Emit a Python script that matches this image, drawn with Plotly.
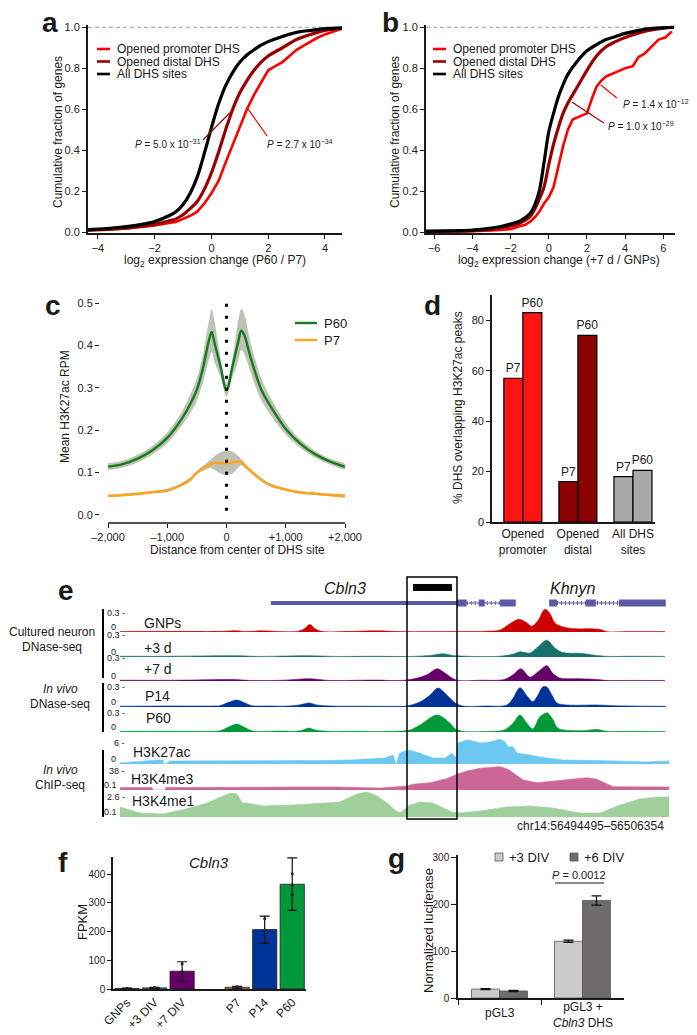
import plotly.graph_objects as go

# The page places the figure 8 px from the top-left corner (body margin), so the
# figure is sized to fill the remaining window and all positions below are given
# in window pixels of the 697 x 1035 view.
OFF = 8
W, H = 697 - OFF, 1035 - OFF
FONT = "Liberation Sans, Arial, Helvetica, sans-serif"
INK = "#1a1a1a"


def PX(x):
    return (x - OFF) / W


def PY(y):
    return 1 - (y - OFF) / H


# ======================= DATA =======================
# (a) cumulative fraction of genes vs log2 expression change (P60 / P7)
cdf_names = ["Opened promoter DHS", "Opened distal DHS", "All DHS sites"]
cdf_colors = ["#ff0000", "#990000", "#000000"]

a_x = [-4.35, -4, -3.5, -3, -2.5, -2, -1.5, -1.25, -1, -0.75, -0.5, -0.25, 0, 0.25,
       0.5, 0.75, 1, 1.25, 1.5, 1.75, 2, 2.5, 3, 3.5, 4, 4.6]
a_all = [0.012, 0.015, 0.02, 0.027, 0.037, 0.052, 0.08, 0.10, 0.135, 0.19, 0.27, 0.385, 0.51,
         0.625, 0.715, 0.78, 0.83, 0.865, 0.89, 0.913, 0.93, 0.955, 0.975, 0.985, 0.993, 0.997]
a_distal = [0.01, 0.012, 0.015, 0.02, 0.028, 0.038, 0.055, 0.065, 0.085, 0.115, 0.15, 0.21, 0.29,
            0.39, 0.50, 0.60, 0.68, 0.74, 0.79, 0.83, 0.86, 0.90, 0.94, 0.965, 0.985, 0.995]
a_prom_x = [-4.35, -4, -3.5, -3, -2.5, -2, -1.5, -1.25, -1, -0.75, -0.5, -0.25, 0, 0.25, 0.5,
            0.75, 1, 1.25, 1.5, 1.75, 2, 2.25, 2.5, 2.75, 3, 3.25, 3.5, 3.75, 4, 4.3, 4.6]
a_prom = [0.008, 0.01, 0.013, 0.018, 0.025, 0.033, 0.045, 0.05, 0.065, 0.08, 0.10, 0.14, 0.19,
          0.25, 0.34, 0.43, 0.52, 0.60, 0.67, 0.73, 0.79, 0.81, 0.83, 0.86, 0.89, 0.91, 0.93,
          0.95, 0.965, 0.98, 0.993]
a_p_texts = ["<i>P</i> = 5.0 x 10<sup>−31</sup>", "<i>P</i> = 2.7 x 10<sup>−34</sup>"]

# (b) cumulative fraction of genes vs log2 expression change (+7 d / GNPs)
b_x = [-6.5, -6, -5, -4, -3, -2.5, -2, -1.5, -1, -0.75, -0.5, -0.25, 0, 0.25, 0.5, 0.75, 1,
       1.5, 2, 2.5, 3, 3.5, 4, 5, 6, 6.55]
b_all = [0.005, 0.005, 0.007, 0.01, 0.02, 0.028, 0.04, 0.055, 0.09, 0.13, 0.20, 0.34, 0.49,
         0.58, 0.66, 0.72, 0.77, 0.835, 0.885, 0.915, 0.94, 0.955, 0.97, 0.99, 0.998, 1.0]
b_distal = [0.003, 0.004, 0.005, 0.008, 0.015, 0.022, 0.03, 0.045, 0.075, 0.11, 0.16, 0.22, 0.33,
            0.43, 0.51, 0.58, 0.63, 0.71, 0.79, 0.86, 0.905, 0.93, 0.95, 0.98, 0.995, 1.0]
b_prom_x = [-6.5, -5, -4, -3, -2, -1.5, -1.25, -1, -0.75, -0.5, -0.25, 0, 0.25, 0.5, 0.75, 1,
            1.25, 1.5, 1.75, 2, 2.25, 2.5, 2.75, 3, 3.5, 4, 4.4, 4.7, 5, 5.4, 5.75, 6.1, 6.45]
b_prom = [0.002, 0.003, 0.005, 0.008, 0.015, 0.03, 0.035, 0.05, 0.07, 0.10, 0.14, 0.17, 0.22,
          0.32, 0.42, 0.50, 0.55, 0.56, 0.57, 0.58, 0.65, 0.71, 0.74, 0.76, 0.78, 0.80, 0.81,
          0.855, 0.87, 0.905, 0.94, 0.95, 0.98]
b_p_texts = ["<i>P</i> = 1.0 x 10<sup>−29</sup>", "<i>P</i> = 1.4 x 10<sup>−12</sup>"]

# (c) mean H3K27ac RPM around DHS centres
c_x = [-2000, -1750, -1500, -1250, -1000, -750, -600, -500, -400, -300, -250, -200, -100, 0,
       100, 200, 250, 300, 400, 500, 600, 750, 1000, 1250, 1500, 1750, 2000]
c_p60 = [0.114, 0.12, 0.133, 0.153, 0.182, 0.228, 0.265, 0.296, 0.345, 0.41, 0.432, 0.405, 0.35,
         0.295, 0.35, 0.41, 0.435, 0.425, 0.375, 0.33, 0.292, 0.255, 0.203, 0.168, 0.143, 0.126, 0.114]
c_p60_hi = [0.122, 0.128, 0.142, 0.163, 0.195, 0.245, 0.288, 0.322, 0.378, 0.455, 0.485, 0.455,
            0.37, 0.31, 0.37, 0.46, 0.487, 0.475, 0.41, 0.36, 0.318, 0.275, 0.218, 0.178, 0.151,
            0.133, 0.12]
c_p60_lo = [0.106, 0.112, 0.124, 0.143, 0.17, 0.212, 0.243, 0.27, 0.312, 0.365, 0.385, 0.36,
            0.325, 0.28, 0.325, 0.365, 0.39, 0.38, 0.34, 0.3, 0.268, 0.235, 0.19, 0.158, 0.135,
            0.119, 0.108]
c_p7 = [0.045, 0.047, 0.05, 0.054, 0.058, 0.072, 0.085, 0.1, 0.11, 0.118, 0.121, 0.123, 0.122,
        0.122, 0.124, 0.126, 0.125, 0.118, 0.105, 0.093, 0.082, 0.07, 0.06, 0.053, 0.05, 0.047, 0.045]
c_p7_hi = [0.048, 0.05, 0.053, 0.057, 0.062, 0.076, 0.09, 0.104, 0.116, 0.127, 0.132, 0.139,
           0.148, 0.152, 0.15, 0.139, 0.132, 0.124, 0.109, 0.097, 0.086, 0.074, 0.063, 0.056,
           0.053, 0.05, 0.048]
c_p7_lo = [0.042, 0.044, 0.047, 0.051, 0.054, 0.068, 0.08, 0.096, 0.104, 0.11, 0.11, 0.107,
           0.098, 0.095, 0.098, 0.112, 0.118, 0.112, 0.101, 0.089, 0.078, 0.066, 0.057, 0.05,
           0.047, 0.044, 0.042]
c_names = ["P60", "P7"]
c_colors = ["#167a1e", "#ffa31a"]

# (d) % DHS overlapping H3K27ac peaks
d_cats = ["Opened<br>promoter", "Opened<br>distal", "All DHS<br>sites"]
d_p7 = [57, 16, 18]
d_p60 = [83, 74, 20.5]
d_colors = ["#ff1414", "#8b0000", "#a9a9a9"]

# (e) genome browser, positions in kb from chr14:56494495
e_span_kb = 11.86
e_chr_label = "chr14:56494495–56506354"
cbln3_utr = [3.26, 7.28]
cbln3_exons = [[7.28, 7.49], [7.75, 7.88], [8.21, 8.55]]
cbln3_intron = [7.49, 8.21]
khnyn_exons = [[9.27, 9.44], [10.06, 10.28], [10.78, 11.79]]
khnyn_intron = [9.44, 10.78]
dhs_box = [6.20, 7.28]
dhs_bar = [6.33, 7.17]

gnp_pos = [0, 1.0, 2.2, 2.48, 2.75, 3.07, 3.4, 3.85, 3.98, 4.10, 4.22, 4.35, 5.0, 5.55, 6.0, 7.0,
           7.9, 8.21, 8.40, 8.62, 8.80, 8.90, 9.03, 9.18, 9.29, 9.40, 9.57, 9.87, 10.15, 10.37,
           10.52, 11.0, 11.77]
gnp_val = [0.008, 0.01, 0.01, 0.02, 0.008, 0.018, 0.008, 0.012, 0.05, 0.12, 0.05, 0.01, 0.01,
           0.018, 0.006, 0.006, 0.012, 0.03, 0.12, 0.2, 0.14, 0.09, 0.18, 0.36, 0.29, 0.14, 0.08,
           0.05, 0.05, 0.04, 0.005, 0.006, 0.006]
d3_pos = [0, 1.0, 2.48, 3.0, 4.1, 4.6, 5.5, 6.3, 6.75, 6.98, 7.2, 7.6, 8.2, 8.5, 8.64, 8.86, 9.03,
          9.22, 9.40, 9.57, 9.94, 10.30, 10.55, 11.0, 11.77]
d3_val = [0.01, 0.01, 0.018, 0.008, 0.018, 0.008, 0.01, 0.008, 0.025, 0.045, 0.02, 0.008, 0.01,
          0.04, 0.07, 0.055, 0.14, 0.23, 0.12, 0.06, 0.05, 0.02, 0.008, 0.01, 0.008]
d7_pos = [0, 1.2, 2.48, 2.8, 3.5, 4.10, 4.5, 5.55, 5.9, 6.15, 6.40, 6.63, 6.85, 6.98, 7.17, 7.30,
          7.8, 8.30, 8.49, 8.66, 8.86, 9.03, 9.22, 9.35, 9.50, 9.94, 10.30, 10.55, 11.0, 11.77]
d7_val = [0.01, 0.01, 0.018, 0.008, 0.01, 0.03, 0.008, 0.012, 0.006, 0.01, 0.035, 0.08, 0.16,
          0.12, 0.04, 0.008, 0.01, 0.02, 0.08, 0.16, 0.05, 0.12, 0.2, 0.1, 0.04, 0.03, 0.02, 0.006,
          0.008, 0.006]
p14_pos = [0, 1.0, 2.0, 2.16, 2.35, 2.53, 2.70, 2.85, 3.2, 3.67, 3.9, 4.08, 4.25, 4.54, 5.2, 6.0,
           6.20, 6.48, 6.70, 6.87, 7.06, 7.24, 7.40, 7.9, 8.36, 8.49, 8.64, 8.81, 8.92, 9.03, 9.13,
           9.22, 9.33, 9.44, 9.65, 10.30, 10.65, 11.79]
p14_val = [0.012, 0.015, 0.015, 0.02, 0.07, 0.105, 0.06, 0.02, 0.015, 0.015, 0.035, 0.06, 0.03,
           0.015, 0.012, 0.01, 0.015, 0.075, 0.18, 0.285, 0.18, 0.06, 0.015, 0.015, 0.03, 0.13,
           0.29, 0.15, 0.08, 0.18, 0.3, 0.3, 0.18, 0.06, 0.03, 0.03, 0.02, 0.01]
p60_pos = [0, 1.0, 2.0, 2.16, 2.35, 2.53, 2.70, 2.87, 3.2, 3.55, 3.8, 3.95, 4.08, 4.22, 4.5, 5.0,
           5.8, 6.26, 6.48, 6.85, 7.13, 7.24, 7.40, 8.0, 8.30, 8.49, 8.64, 8.79, 8.92, 9.07, 9.20,
           9.24, 9.35, 9.46, 9.94, 10.32, 10.52, 11.0, 11.77]
p60_val = [0.01, 0.012, 0.012, 0.02, 0.08, 0.126, 0.07, 0.015, 0.012, 0.015, 0.01, 0.03, 0.063,
           0.03, 0.01, 0.012, 0.01, 0.03, 0.11, 0.27, 0.14, 0.05, 0.01, 0.01, 0.03, 0.14, 0.27,
           0.14, 0.05, 0.24, 0.3, 0.3, 0.2, 0.06, 0.02, 0.04, 0.01, 0.01, 0.008]
k27_pos = [0, 0.22, 0.54, 0.80, 0.93, 0.95, 0.99, 1.08, 1.30, 1.73, 2.38, 3.02, 3.67, 4.32, 4.97,
           5.40, 5.72, 5.90, 5.96, 5.98, 6.03, 6.09, 6.26, 6.48, 6.76, 7.02, 7.17, 7.24, 7.28,
           7.30, 7.52, 7.78, 7.99, 8.21, 8.32, 8.38, 8.49, 8.58, 8.86, 9.07, 9.57, 10.30, 11.38,
           11.86]
k27_val = [0.3, 0.6, 0.85, 1.15, 1.15, 0.0, 0.0, 0.85, 0.85, 1.0, 0.85, 1.0, 0.85, 1.0, 1.15,
           1.45, 1.7, 2.6, 0.0, 0.0, 2.9, 3.4, 4.0, 3.1, 1.7, 1.7, 3.1, 2.0, 2.0, 6.0, 6.9, 6.0,
           6.3, 7.1, 6.3, 4.9, 4.9, 3.1, 2.6, 2.0, 1.15, 1.0, 0.6, 0.85]
k4me3_pos = [0, 0.65, 0.69, 0.71, 0.97, 0.99, 2.38, 3.89, 4.75, 5.62, 6.20, 6.33, 6.70, 7.06,
             7.28, 7.50, 7.78, 8.21, 8.38, 8.58, 8.71, 9.01, 9.44, 9.79, 10.09, 10.30, 10.52,
             10.65, 11.86]
k4me3_val = [5, 5, 5, 0.1, 0.1, 5, 6, 6, 6, 4, 8.1, 11.5, 14.7, 22.7, 31.5, 38.1, 43.5, 46.7,
             41.5, 28.1, 20.1, 14.7, 18.1, 21.5, 24.7, 21.5, 11.5, 6.7, 6.1]
k4me1_pos = [0, 0.43, 0.93, 1.51, 1.88, 2.16, 2.38, 2.53, 2.64, 2.74, 3.09, 3.74, 4.32, 4.75,
             5.12, 5.34, 5.55, 5.77, 5.94, 6.05, 6.26, 6.48, 6.76, 6.98, 7.17, 7.34, 7.78, 8.36,
             8.86, 9.35, 9.94, 10.37, 10.80, 11.23, 11.60, 11.86]
k4me1_val = [1.35, 0.6, 0.48, 1.23, 1.85, 2.6, 3.1, 2.98, 1.85, 1.85, 1.48, 1.6, 1.85, 1.98,
             2.98, 3.23, 2.73, 1.85, 0.98, 0.6, 1.6, 1.98, 1.85, 1.23, 0.73, 0.6, 0.85, 1.35, 1.48,
             1.23, 0.6, 0.6, 1.6, 2.35, 2.6, 2.6]

e_tracks = [
    # name, positions, values, colour, scale low, scale high, low text, high text
    ("GNPs", gnp_pos, gnp_val, "#cc0000", 0.0, 0.3, "0", "0.3"),
    ("+3 d", d3_pos, d3_val, "#17706e", 0.0, 0.3, "0", "0.3"),
    ("+7 d", d7_pos, d7_val, "#650068", 0.0, 0.3, "0", "0.3"),
    ("P14", p14_pos, p14_val, "#00339a", 0.0, 0.3, "0", "0.3"),
    ("P60", p60_pos, p60_val, "#00993a", 0.0, 0.3, "0", "0.3"),
    ("H3K27ac", k27_pos, k27_val, "#6cc8f0", 0.0, 6.0, "0", "6"),
    ("H3K4me3", k4me3_pos, k4me3_val, "#cc6699", 0.1, 38.0, "0.1", "38"),
    ("H3K4me1", k4me1_pos, k4me1_val, "#9fcf9b", 0.1, 2.6, "0.1", "2.6"),
]
e_groups = [("Cultured neuron", "DNase-seq"), ("<i>In vivo</i>", "DNase-seq"),
            ("<i>In vivo</i>", "ChIP-seq")]

# (f) Cbln3 FPKM
f_groups = [["GNPs", "+3 DIV", "+7 DIV"], ["P7", "P14", "P60"]]
f_vals = [2, 4, 62, 6, 207, 365]
f_err_up = [1, 2, 33, 3, 47, 92]
f_err_dn = [1, 2, 35, 3, 48, 91]
f_reps = [[1, 2, 3], [3, 4, 5], [88, 60, 38], [4, 6, 8], [245, 205, 172], [402, 362, 330]]
f_colors = ["#c0392b", "#2aa3a3", "#650068", "#d9822b", "#00339a", "#00993a"]

# (g) normalized luciferase
g_cats = ["pGL3", "pGL3 +<br><i>Cbln3</i> DHS"]
g_series = ["+3 DIV", "+6 DIV"]
g_3div = [19, 121]
g_6div = [15, 208]
g_3div_err = [1.2, 2.5]
g_6div_err = [1.2, 10]
g_colors = ["#cbcbcb", "#6e6b6b"]
g_p_text = "<i>P</i> = 0.0012"

# ======================= FIGURE =======================
fig = go.Figure()
annotations = []
shapes = []


def ann(text, x, y, size=11, xanchor="center", yanchor="middle", angle=0, color=INK,
        xref="paper", yref="paper"):
    annotations.append(dict(
        text=text, x=PX(x) if xref == "paper" else x, y=PY(y) if yref == "paper" else y,
        xref=xref, yref=yref, showarrow=False, textangle=angle,
        font=dict(size=size, color=color, family=FONT), xanchor=xanchor, yanchor=yanchor))


def pline(x0, y0, x1, y1, color=INK, width=1.0, dash=None, xref="paper", yref="paper"):
    ln = dict(color=color, width=width)
    if dash:
        ln["dash"] = dash
    shapes.append(dict(type="line", xref=xref, yref=yref,
                       x0=PX(x0) if xref == "paper" else x0, x1=PX(x1) if xref == "paper" else x1,
                       y0=PY(y0) if yref == "paper" else y0, y1=PY(y1) if yref == "paper" else y1,
                       line=ln))


def axis(**kw):
    d = dict(showline=True, linecolor=INK, linewidth=2, ticks="outside", ticklen=4,
             tickwidth=1.2, tickcolor=INK, showgrid=False, zeroline=False, automargin=False,
             tickfont=dict(size=11, family=FONT, color="#222"))
    d.update(kw)
    return d


layout = dict(width=W, height=H, autosize=False,
              margin=dict(l=0, r=0, t=0, b=0, pad=0, autoexpand=False), showlegend=False,
              paper_bgcolor="white", plot_bgcolor="rgba(0,0,0,0)",
              font=dict(family=FONT, color=INK), barmode="overlay")

# ---------- (a) and (b) ----------
for (xa, ya, xs, prom_x, series, ptexts, dom, rng, ticks, lab_x, lab, xtitle, ytitle_x,
     leg_x, callouts) in [
    ("x", "y", a_x, a_prom_x, [a_prom, a_distal, a_all], a_p_texts, (88, 342), (-4.35, 4.6),
     [-4, -2, 0, 2, 4], 50, "a", "log<sub>2</sub> expression change (P60 / P7)", 58, 97,
     # (line x0,y0,x1,y1, text x, text y, anchor, colour index)
     [(-0.30, 0.45, 0.65, 0.583, -0.30, 0.43, "right", 1),
      (1.96, 0.47, 1.29, 0.60, 1.89, 0.43, "left", 0)]),
    ("x2", "y2", b_x, b_prom_x, [b_prom, b_distal, b_all], b_p_texts, (426, 675), (-6.43, 6.61),
     [-6, -4, -2, 0, 2, 4, 6], 390, "b", "log<sub>2</sub> expression change (+7 d / GNPs)", 395, 433,
     [(2.88, 0.533, 1.21, 0.635, 2.99, 0.518, "left", 1),
      (3.56, 0.655, 2.73, 0.718, 3.77, 0.626, "left", 0)]),
]:
    for i, (vals, name, col) in enumerate(zip(series, cdf_names, cdf_colors)):
        xx = prom_x if i == 0 else xs
        fig.add_trace(go.Scatter(x=xx, y=vals, mode="lines", name=name, xaxis=xa, yaxis=ya,
                                 line=dict(color=col, width=2.6 if i == 0 else 3.2,
                                           shape="linear" if i == 0 else "spline")))
    n = "" if xa == "x" else "2"
    layout["xaxis" + n] = axis(domain=[PX(dom[0]), PX(dom[1])], range=list(rng), anchor=ya,
                               tickvals=ticks, ticktext=[("−" + str(-t)) if t < 0 else str(t) for t in ticks])
    layout["yaxis" + n] = axis(domain=[PY(233), PY(25)], range=[-0.004, 1.011], anchor=xa,
                               tickvals=[0, 0.2, 0.4, 0.6, 0.8, 1.0],
                               ticktext=["0.0", "0.2", "0.4", "0.6", "0.8", "1.0"])
    # dashed line at 1.0
    shapes.append(dict(type="line", xref=xa, yref=ya, x0=rng[0], x1=rng[1], y0=1.0, y1=1.0,
                       line=dict(color="#9a9a9a", width=1, dash="4px,3px"), layer="below"))
    for (x0, y0, x1, y1, tx, ty, anc, ci), txt in zip(callouts, ptexts):
        shapes.append(dict(type="line", xref=xa, yref=ya, x0=x0, y0=y0, x1=x1, y1=y1,
                           line=dict(color=cdf_colors[ci], width=1.2)))
        annotations.append(dict(text=txt, x=tx, y=ty, xref=xa, yref=ya, showarrow=False,
                                xanchor=anc, yanchor="middle",
                                font=dict(size=10, family=FONT, color=INK)))
    # legend
    for i, (name, col) in enumerate(zip(cdf_names, cdf_colors)):
        yy = 49 + 12.5 * i
        pline(leg_x, yy, leg_x + 13, yy, color=col, width=2.6)
        ann(name, leg_x + 18, yy, size=12, xanchor="left")
    ann("<b>%s</b>" % lab, lab_x, 22, size=28)
    ann(xtitle, (dom[0] + dom[1]) / 2 + (0 if xa == "x" else 8), 261, size=12)
    ann("Cumulative fraction of genes", ytitle_x, 132, size=12, angle=-90)

# ---------- (c) ----------
for name, col, mean, hi, lo in [("P60", c_colors[0], c_p60, c_p60_hi, c_p60_lo),
                                ("P7", c_colors[1], c_p7, c_p7_hi, c_p7_lo)]:
    fig.add_trace(go.Scatter(x=c_x + c_x[::-1], y=hi + lo[::-1], fill="toself", mode="lines",
                             line=dict(width=0, shape="spline"), fillcolor="rgba(180,182,168,0.85)",
                             xaxis="x3", yaxis="y3", hoverinfo="skip"))
for name, col, mean in [("P60", c_colors[0], c_p60), ("P7", c_colors[1], c_p7)]:
    fig.add_trace(go.Scatter(x=c_x, y=mean, mode="lines", name=name, xaxis="x3", yaxis="y3",
                             line=dict(color=col, width=2.4, shape="spline")))
layout["xaxis3"] = axis(domain=[PX(100), PX(345)], range=[-2135, 2000], anchor="y3",
                        showline=False, tickvals=[-2000, -1000, 0, 1000, 2000],
                        ticktext=["–2,000", "–1,000", "0", "+1,000", "+2,000"])
layout["yaxis3"] = axis(domain=[PY(523), PY(299)], range=[-0.019, 0.51], anchor="x3",
                        showline=False, tickvals=[0, 0.1, 0.2, 0.3, 0.4, 0.5],
                        ticktext=["0.0", "0.1", "0.2", "0.3", "0.4", "0.5"])
shapes.append(dict(type="line", xref="x3", yref="paper", x0=-2000, x1=2000, y0=PY(523),
                   y1=PY(523), line=dict(color=INK, width=1.3)))
shapes.append(dict(type="line", xref="x3", yref="y3", x0=0, x1=0, y0=0.01, y1=0.512,
                   line=dict(color="black", width=3, dash="3px,9px")))
for i, (name, col) in enumerate(zip(c_names, c_colors)):
    yy = 323 + 17 * i
    pline(295, yy, 317, yy, color=col, width=2.4)
    ann(name, 322, yy, size=13, xanchor="left")
ann("<b>c</b>", 53, 305, size=28)
ann("Mean H3K27ac RPM", 65, 407, size=12, angle=-90)
ann("Distance from center of DHS site", 237, 550, size=12)

# ---------- (d) ----------
for vals, lab, off in [(d_p7, "P7", -0.345), (d_p60, "P60", 0.0)]:
    fig.add_trace(go.Bar(x=d_cats, y=vals, name=lab, width=0.345, offset=off,
                         marker=dict(color=d_colors, line=dict(color="black", width=1.2)),
                         text=[lab] * len(vals), textposition="outside", cliponaxis=False,
                         constraintext="none",
                         textfont=dict(size=12, family=FONT, color=INK),
                         xaxis="x4", yaxis="y4"))
layout["xaxis4"] = axis(domain=[PX(492), PX(655)], range=[-0.56, 2.4], anchor="y4", ticks="",
                        tickfont=dict(size=12, family=FONT, color=INK), linewidth=1.6)
layout["yaxis4"] = axis(domain=[PY(522), PY(295)], range=[0, 90], anchor="x4",
                        tickvals=[0, 20, 40, 60, 80], linewidth=1.6)
ann("<b>d</b>", 432, 305, size=28)
ann("% DHS overlapping H3K27ac peaks", 458, 408, size=12, angle=-90)

# ---------- (e) ----------
layout["xaxis7"] = dict(domain=[PX(120), PX(669)], range=[0, e_span_kb], visible=False,
                        anchor="y7", fixedrange=True)
layout["yaxis7"] = dict(domain=[PY(610), PY(596)], range=[-1, 1], visible=False, anchor="x7")
GENE = "#5a5aa8"
shapes.append(dict(type="rect", xref="x7", yref="y7", x0=cbln3_utr[0], x1=cbln3_utr[1],
                   y0=-0.29, y1=0.29, fillcolor=GENE, line=dict(width=0)))
for ex in cbln3_exons + khnyn_exons:
    shapes.append(dict(type="rect", xref="x7", yref="y7", x0=ex[0], x1=ex[1], y0=-0.5, y1=0.5,
                       fillcolor=GENE, line=dict(width=0)))
for intr in [cbln3_intron, khnyn_intron]:
    shapes.append(dict(type="line", xref="x7", yref="y7", x0=intr[0], x1=intr[1], y0=0, y1=0,
                       line=dict(color=GENE, width=1)))
    shapes.append(dict(type="line", xref="x7", yref="y7", x0=intr[0], x1=intr[1], y0=0, y1=0,
                       line=dict(color=GENE, width=4, dash="1px,3px")))
ann("<i>Cbln3</i>", 345, 588, size=16)
ann("<i>Khnyn</i>", 572, 588, size=16)

track_base = [632, 657, 681, 707, 732, 764, 790, 817]
track_top = [613, 635, 658, 687, 713, 743, 771, 797]
track_lab_x = [142, 142, 142, 143, 144, 131, 129, 130]
track_lab_y = [623, 648, 669, 696, 718, 752, 779, 801]
for i, (name, pos, val, col, lo, hi, lot, hit) in enumerate(e_tracks):
    yk = "y%d" % (8 + i)
    base, top = track_base[i], track_top[i]
    span = 27
    rtop = lo + (hi - lo) * span / (base - top)
    layout["yaxis%d" % (8 + i)] = dict(domain=[PY(base), PY(base - span)], range=[lo, rtop],
                                      visible=False, anchor="x7")
    dna = i < 5
    fig.add_trace(go.Scatter(x=pos, y=val, mode="lines", fill="tozeroy", fillcolor=col,
                             line=dict(color=col, width=0.6,
                                       shape="spline" if dna else "linear", smoothing=0.9),
                             name=name, xaxis="x7", yaxis=yk))
    ann(name, track_lab_x[i], track_lab_y[i], size=14, xanchor="left")
    ann(hit + " -", 127, top, size=9, xanchor="right")
    ann(lot, 118 if lot == "0" else 119, base - 5, size=9, xanchor="right")

shapes.append(dict(type="rect", xref="x7", yref="paper", x0=dhs_box[0], x1=dhs_box[1],
                   y0=PY(819), y1=PY(577), line=dict(color="black", width=1.5)))
shapes.append(dict(type="rect", xref="x7", yref="paper", x0=dhs_bar[0], x1=dhs_bar[1],
                   y0=PY(591), y1=PY(584), fillcolor="black", line=dict(width=0)))
group_bars = [(609, 678), (683, 732), (750, 817)]
group_text_y = [(632, 647), (689, 704), (770, 785)]
group_text_x = [52, 60, 60]
for (g1, g2), (y1, y2), gx, (t1, t2) in zip(group_bars, group_text_y, group_text_x, e_groups):
    pline(103, g1, 103, g2, color="black", width=2)
    ann(t1, gx, y1, size=12)
    ann(t2, gx, y2, size=12)
ann(e_chr_label, 666, 826, size=12, xanchor="right")
ann("<b>e</b>", 66, 590, size=28)

# ---------- (f) ----------
f_labels, f_pos = [], []
slot = 0
for grp in f_groups:
    for lab in grp:
        f_labels.append(lab)
        f_pos.append(slot)
        slot += 1
    slot += 1
fig.add_trace(go.Bar(x=f_pos, y=f_vals, width=0.88,
                     marker=dict(color=f_colors, line=dict(color="#222", width=0.8)),
                     error_y=dict(type="data", array=f_err_up, arrayminus=f_err_dn,
                                  color="#111", thickness=1.2, width=5),
                     xaxis="x5", yaxis="y5"))
rx, ry = [], []
for p, reps in zip(f_pos, f_reps):
    for r in reps:
        rx.append(p)
        ry.append(r)
fig.add_trace(go.Scatter(x=rx, y=ry, mode="markers", marker=dict(color="#222", size=3),
                         xaxis="x5", yaxis="y5"))
layout["xaxis5"] = axis(domain=[PX(113), PX(306)], range=[-0.51, 6.5], anchor="y5", ticks="",
                        tickvals=f_pos, ticktext=f_labels, tickangle=-45, linewidth=1.5,
                        tickfont=dict(size=12, family=FONT, color=INK))
layout["yaxis5"] = axis(domain=[PY(989), PY(857)], range=[0, 460], anchor="x5",
                        tickvals=[0, 100, 200, 300, 400], linewidth=1.5,
                        tickfont=dict(size=10, family=FONT, color="#222"))
ann("<b>f</b>", 63, 862, size=28)
ann("FPKM", 82, 922, size=13, angle=-90)
ann("<i>Cbln3</i>", 209, 862, size=15)

# ---------- (g) ----------
for vals, errs, col, off in [(g_3div, g_3div_err, g_colors[0], -0.337),
                             (g_6div, g_6div_err, g_colors[1], 0.0)]:
    fig.add_trace(go.Bar(x=g_cats, y=vals, width=0.337, offset=off,
                         marker=dict(color=col, line=dict(color="#555", width=0.8)),
                         error_y=dict(type="data", array=errs, symmetric=True, color="#111",
                                      thickness=1.3, width=5),
                         xaxis="x6", yaxis="y6"))
layout["xaxis6"] = axis(domain=[PX(458), PX(624)], range=[-0.5, 1.5], anchor="y6",
                        showticklabels=False, tickson="boundaries", ticklen=5, linewidth=1.5)
layout["yaxis6"] = axis(domain=[PY(998), PY(855)], range=[0, 305], anchor="x6",
                        tickvals=[0, 100, 200, 300], ticklen=5, linewidth=1.5,
                        tickfont=dict(size=10, family=FONT, color="#222"))
annotations.append(dict(text=g_cats[0], x=g_cats[0], y=PY(1013), xref="x6", yref="paper",
                        xanchor="center", yanchor="middle", showarrow=False,
                        font=dict(size=12, family=FONT, color=INK)))
annotations.append(dict(text=g_cats[1], x=g_cats[1], y=PY(1015), xref="x6", yref="paper",
                        xanchor="center", yanchor="middle", showarrow=False,
                        font=dict(size=12, family=FONT, color=INK)))
for (sx, tx), name, col in zip([(495, 507), (570, 582)], g_series, g_colors):
    shapes.append(dict(type="rect", xref="paper", yref="paper", x0=PX(sx), x1=PX(sx + 8),
                       y0=PY(861), y1=PY(853), fillcolor=col, line=dict(color="#555", width=0.8)))
    ann(name, tx, 857, size=13, xanchor="left")
pline(555, 883, 604, 883, color=INK, width=1.2)
ann(g_p_text, 579, 875, size=11)
ann("<b>g</b>", 396, 858, size=28)
ann("Normalized luciferase", 428, 930, size=13, angle=-90)

layout["annotations"] = annotations
layout["shapes"] = shapes
fig.update_layout(**layout)
fig.write_html("out.html")
